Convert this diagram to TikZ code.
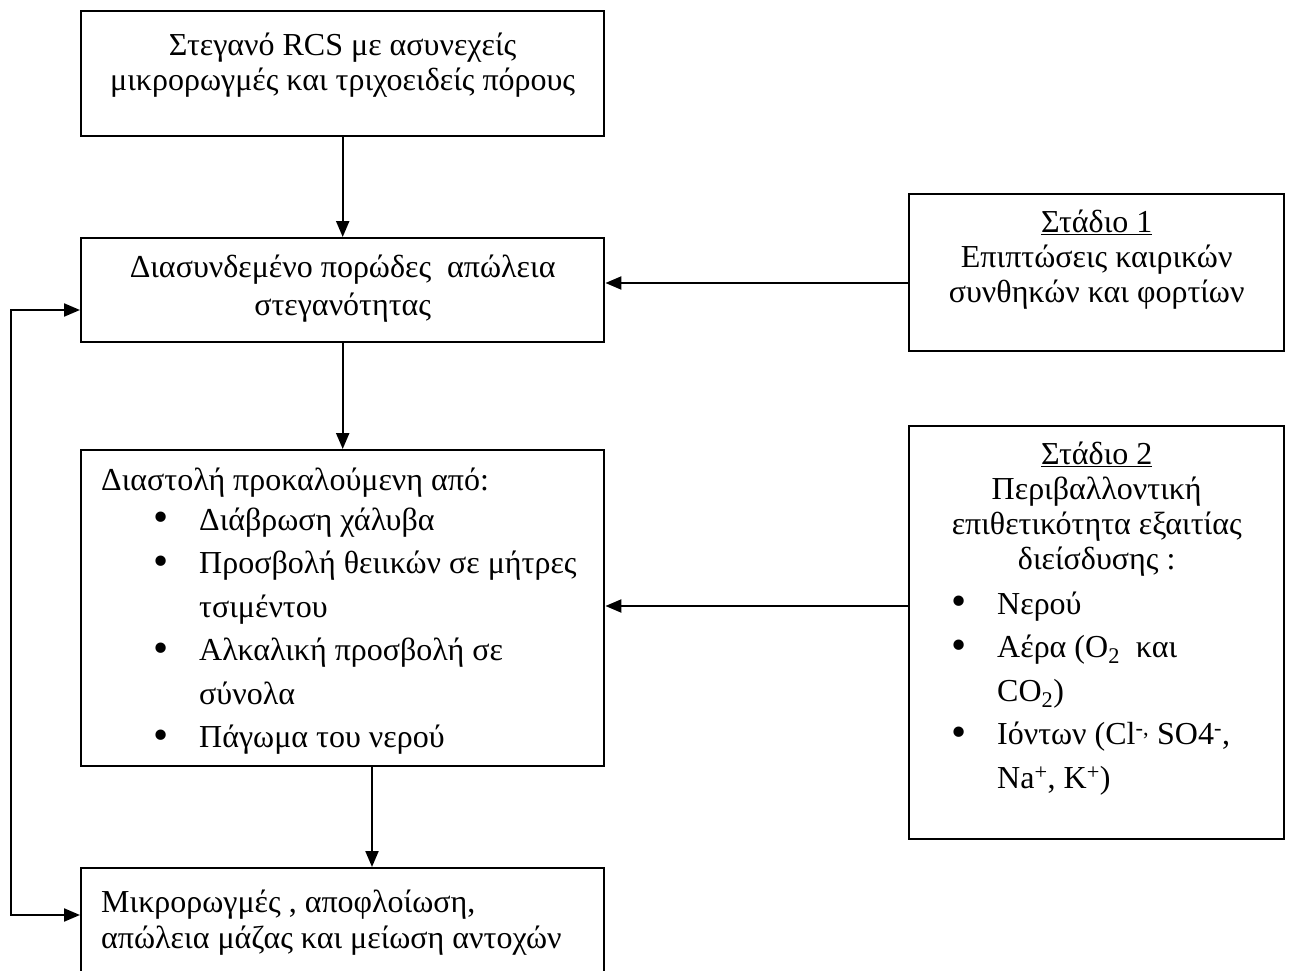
\documentclass[tikz,border=0pt]{standalone}
\usepackage{fontspec}
\setmainfont{Liberation Serif}
\usetikzlibrary{arrows.meta}
% bullet line: bullet at #1 from the left edge, text 38pt after it
\newcommand{\bigbullet}{\raisebox{-1.6pt}{\scalebox{1.35}{•}}}
\newcommand{\blt}[2]{\hspace*{#1}\makebox[0pt]{\bigbullet}\hspace*{38pt}#2}
\begin{document}
\begin{tikzpicture}[x=1pt,y=-1pt,
  panel/.style={draw, line width=2.4pt, inner sep=0pt, anchor=north west},
  flow/.style={line width=2.2pt, -{Triangle[length=16pt,width=13pt]}},
  twoway/.style={line width=2.2pt, {Triangle[length=16pt,width=13pt]}-{Triangle[length=16pt,width=13pt]}},
]
\useasboundingbox (0,0) rectangle (1291,971);
\clip (0,0) rectangle (1291,971);
\fontsize{32}{35}\selectfont

% left column
\node[panel] (start) at (80,10) {\parbox[t][125pt][t]{523pt}{\centering
  \rule{0pt}{44pt}Στεγανό RCS με ασυνεχείς\\
  μικρορωγμές και τριχοειδείς πόρους}};

\node[panel] (porous) at (80,237) {\parbox[t][104pt][t]{523pt}{\centering
  \rule{0pt}{39pt}Διασυνδεμένο πορώδες \ απώλεια\\[3pt]
  στεγανότητας}};

\node[panel] (expand) at (80,449) {\parbox[t][316pt][t]{523pt}{\raggedright
  \fontsize{32}{43.5}\selectfont
  \hspace*{20pt}\rule{0pt}{40pt}Διαστολή προκαλούμενη από:\\[-3.5pt]
  \blt{80pt}{Διάβρωση χάλυβα}\\
  \blt{80pt}{Προσβολή θειικών σε μήτρες}\\
  \hspace*{118pt}τσιμέντου\\
  \blt{80pt}{Αλκαλική προσβολή σε}\\
  \hspace*{118pt}σύνολα\\
  \blt{80pt}{Πάγωμα του νερού}}};

\node[panel] (damage) at (80,867) {\parbox[t][160pt][t]{523pt}{\raggedright
  \hspace*{20pt}\rule{0pt}{44pt}Μικρορωγμές , αποφλοίωση,\\[1pt]
  \hspace*{20pt}απώλεια μάζας και μείωση αντοχών}};

% right column
\node[panel] (stage1) at (908,193) {\parbox[t][157pt][t]{375pt}{\centering
  \rule{0pt}{38pt}\underline{Στάδιο 1}\\
  Επιπτώσεις καιρικών\\
  συνθηκών και φορτίων}};

\node[panel] (stage2) at (908,425) {\parbox[t][413pt][t]{375pt}{\raggedright
  \makebox[375pt][c]{\rule{0pt}{38pt}\underline{Στάδιο 2}}\\
  \makebox[375pt][c]{Περιβαλλοντική}\\
  \makebox[375pt][c]{επιθετικότητα εξαιτίας}\\
  \makebox[375pt][c]{διείσδυσης :}\\[10pt]
  \blt{50pt}{Νερού}\\[8.5pt]
  \blt{50pt}{Αέρα (O\textsubscript{2} \ και}\\[8.5pt]
  \hspace*{88pt}CO\textsubscript{2})\\[8.5pt]
  \blt{50pt}{Ιόντων (Cl\textsuperscript{-,} SO4\textsuperscript{-},}\\[8.5pt]
  \hspace*{88pt}Na\textsuperscript{+}, K\textsuperscript{+})}};

% connectors
\coordinate (lowx) at (372,0);
\coordinate (row1) at (0,283);
\coordinate (row2) at (0,606);
\coordinate (fbx) at (11,0);
\coordinate (fbtop) at (0,310);
\coordinate (fbbot) at (0,915);

\draw[flow] (start) -- (porous);
\draw[flow] (porous) -- (expand);
\draw[flow] (expand.south -| lowx) -- (damage.north -| lowx);
\draw[flow] (stage1.west |- row1) -- (porous.east |- row1);
\draw[flow] (stage2.west |- row2) -- (expand.east |- row2);
\draw[twoway] (porous.west |- fbtop) -- (fbx |- fbtop) -- (fbx |- fbbot) -- (damage.west |- fbbot);
\end{tikzpicture}
\end{document}
